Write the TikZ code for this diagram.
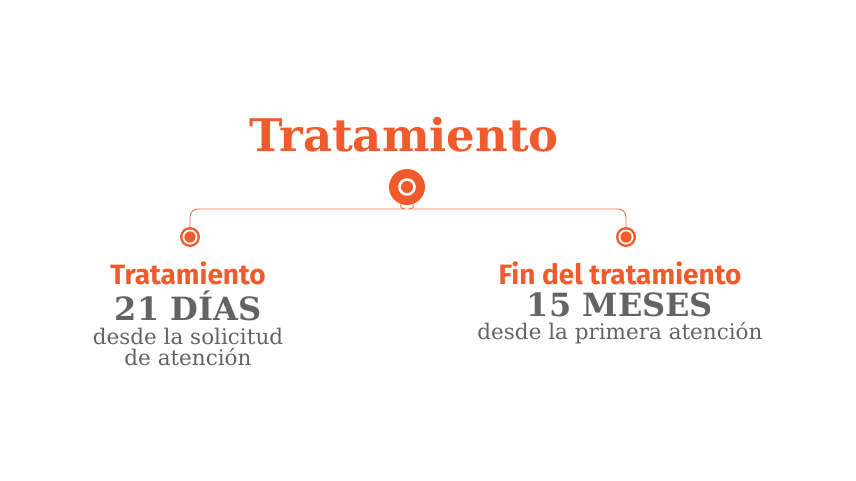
\documentclass[tikz,border=0pt]{standalone}
\usepackage{fontspec}
\setmainfont{DejaVu Serif}
\newfontfamily\sans{Fira Sans}
\definecolor{org}{HTML}{F15A2B}
\definecolor{gr}{HTML}{636363}
\begin{document}
\begin{tikzpicture}[x=1pt,y=-1pt,
  ttl/.style={font=\bfseries\fontsize{45}{50}\selectfont,text=org},
  sub/.style={font=\sans\bfseries\fontsize{28}{30}\selectfont,text=org},
  big/.style={font=\bfseries\fontsize{32}{36}\selectfont,text=gr},
  sm/.style={font=\fontsize{21.5}{21}\selectfont,text=gr,align=center}]
\useasboundingbox (0,0) rectangle (856,481);
\node[ttl] (t) at (404,135) {Tratamiento};
\node[circle,fill=org,minimum size=36,inner sep=0] (bc) at (407,187) {};
\draw[white,line width=2.6] (bc) circle (7.5);
\node[circle,fill=org,minimum size=20,inner sep=0] (l) at (190,237) {};
\node[circle,fill=org,minimum size=20,inner sep=0] (r) at (626,237) {};
\foreach \n in {l,r}{\draw[white,line width=1.8] (\n) circle (6.6);}
\draw[org!85,line width=0.9,rounded corners=8] (l.north) -- (190,209) -- (398,209) to[out=0,in=250] (bc.-110);
\draw[org!85,line width=0.9,rounded corners=8] (r.north) -- (626,209) -- (416,209) to[out=180,in=290] (bc.-70);
\node[sub] (lt) at (188,273) {Tratamiento};
\node[big] (ld) at (188,306) {21 DÍAS};
\node[sm] (ls) at (188,347) {desde la solicitud\\de atención};
\node[sub] (rt) at (620,273) {Fin del tratamiento};
\node[big] (rd) at (620,305) {15 MESES};
\node[sm] (rs) at (620,333) {desde la primera atención};
\end{tikzpicture}
\end{document}
